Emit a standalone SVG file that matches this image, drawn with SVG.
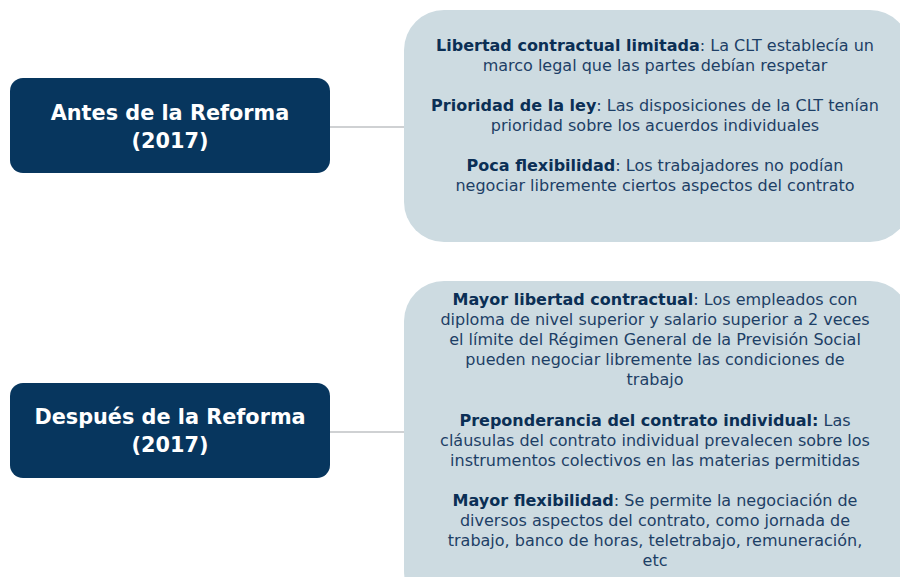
<svg xmlns="http://www.w3.org/2000/svg" width="900" height="577" viewBox="0 0 900 577">
<style>
.dark{fill:#07365e}
.light{fill:#cddbe1}
.title{font-family:"DejaVu Sans","Open Sans",sans-serif;font-size:20.8px;font-weight:600;fill:#ffffff;text-anchor:middle}
.body{font-family:"DejaVu Sans","Open Sans",sans-serif;font-size:16px;fill:#1d3f66;text-anchor:middle}
.b{font-weight:700;fill:#0b2f55}
.conn{stroke:#a0a4a8;stroke-width:1.2;fill:none}
</style>
<rect width="900" height="577" fill="#ffffff"/>
<g id="connectors">
<line class="conn" x1="330" y1="127" x2="404" y2="127"/>
<line class="conn" x1="330" y1="432" x2="404" y2="432"/>
</g>
<g id="antes">
<rect class="dark" x="10" y="78" width="320" height="95" rx="13"/>
<text class="title" x="170" y="120">Antes de la Reforma</text>
<text class="title" x="170" y="148">(2017)</text>
</g>
<g id="antes-detalle">
<rect class="light" x="404" y="10" width="506" height="232" rx="40"/>
<text class="body" x="655" y="51"><tspan class="b">Libertad contractual limitada</tspan>: La CLT establecía un</text>
<text class="body" x="655" y="71">marco legal que las partes debían respetar</text>
<text class="body" x="655" y="111"><tspan class="b">Prioridad de la ley</tspan>: Las disposiciones de la CLT tenían</text>
<text class="body" x="655" y="131">prioridad sobre los acuerdos individuales</text>
<text class="body" x="655" y="171"><tspan class="b">Poca flexibilidad</tspan>: Los trabajadores no podían</text>
<text class="body" x="655" y="191">negociar libremente ciertos aspectos del contrato</text>
</g>
<g id="despues">
<rect class="dark" x="10" y="383" width="320" height="95" rx="13"/>
<text class="title" x="170" y="424">Después de la Reforma</text>
<text class="title" x="170" y="452">(2017)</text>
</g>
<g id="despues-detalle">
<rect class="light" x="404" y="281" width="506" height="330" rx="40"/>
<text class="body" x="655" y="305"><tspan class="b">Mayor libertad contractual</tspan>: Los empleados con</text>
<text class="body" x="655" y="325">diploma de nivel superior y salario superior a 2 veces</text>
<text class="body" x="655" y="345">el límite del Régimen General de la Previsión Social</text>
<text class="body" x="655" y="365">pueden negociar libremente las condiciones de</text>
<text class="body" x="655" y="385">trabajo</text>
<text class="body" x="655" y="426"><tspan class="b">Preponderancia del contrato individual:</tspan> Las</text>
<text class="body" x="655" y="446">cláusulas del contrato individual prevalecen sobre los</text>
<text class="body" x="655" y="466">instrumentos colectivos en las materias permitidas</text>
<text class="body" x="655" y="506"><tspan class="b">Mayor flexibilidad</tspan>: Se permite la negociación de</text>
<text class="body" x="655" y="526">diversos aspectos del contrato, como jornada de</text>
<text class="body" x="655" y="546">trabajo, banco de horas, teletrabajo, remuneración,</text>
<text class="body" x="655" y="566">etc</text>
</g>
</svg>
